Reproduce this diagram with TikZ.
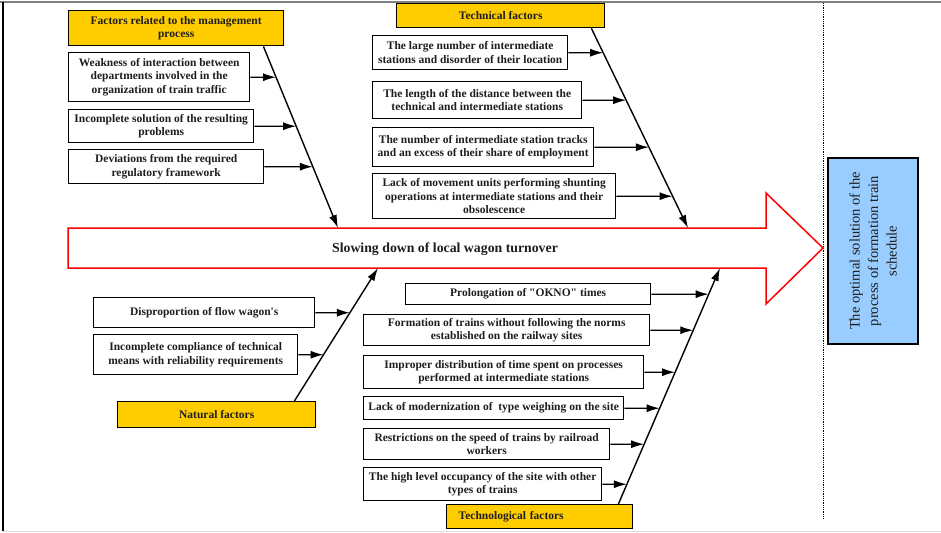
\documentclass[tikz,border=0pt]{standalone}
\usepackage{fontspec}
\setmainfont{Liberation Serif}
\usetikzlibrary{arrows.meta}
\definecolor{headyellow}{RGB}{255,204,0}
\definecolor{goalblue}{RGB}{153,204,255}
\definecolor{inkgray}{RGB}{30,30,30}
\tikzset{
  cause/.style={draw, line width=1.4pt, fill=white, align=center, anchor=north west,
    inner sep=1pt, text=inkgray, font=\bfseries\fontsize{11.5}{13.5}\selectfont},
  group/.style={cause, fill=headyellow},
  bone/.style={line width=1.4pt, -{Latex[length=13pt,width=8pt]}},
  twig/.style={line width=1.4pt, -{Latex[length=13pt,width=8pt]}},
}

\begin{document}
\begin{tikzpicture}[x=1pt,y=-1pt]
\useasboundingbox (0,0) rectangle (941,532);
% frame
\draw[gray, line width=1.5pt] (0,2) -- (941,2);
\draw[line width=1.5pt] (3,2) -- (3,531);
\draw[gray!25, line width=1pt] (3,531) -- (941,531);
\draw[densely dotted, line width=0.8pt] (823,3) -- (823,518);

% main arrow
\draw[red, line width=1.5pt, fill=white] (68,228) -- (766,228) -- (766,193) -- (823,248)
  -- (766,304) -- (766,268) -- (68,268) -- cycle;
\node[text=inkgray, font=\bfseries\fontsize{13.8}{16}\selectfont] (slow) at (445,249)
  {Slowing down of local wagon turnover};

% goal
\node[draw, line width=1.4pt, fill=goalblue, rotate=90, align=center,
  minimum width=186pt, minimum height=90pt, text=inkgray,
  font=\fontsize{14.5}{18.5}\selectfont] (goal) at (873,251)
  {The optimal solution of the\\process of formation train\\schedule};

% management process
\node[group, minimum width=215pt, minimum height=35pt] (mh) at (68,10)
  {Factors related to the management\\process};
\node[cause, minimum width=181pt, minimum height=49pt] (m1) at (68,52)
  {Weakness of interaction between\\departments involved in the\\organization of train traffic};
\node[cause, minimum width=185pt, minimum height=33pt] (m2) at (68,109)
  {Incomplete solution of the resulting\\problems};
\node[cause, minimum width=195pt, minimum height=34pt] (m3) at (68,149)
  {Deviations from the required\\regulatory framework};

% technical
\node[group, minimum width=208pt, minimum height=24pt] (th) at (396,3) {Technical factors};
\node[cause, minimum width=195pt, minimum height=34pt] (t1) at (372,35)
  {The large number of intermediate\\stations and disorder of their location};
\node[cause, minimum width=209pt, minimum height=37pt] (t2) at (372,81)
  {The length of the distance between the\\technical and intermediate stations};
\node[cause, minimum width=221pt, minimum height=39pt] (t3) at (372,127)
  {The number of intermediate station tracks\\and an excess of their share of employment};
\node[cause, minimum width=243pt, minimum height=45pt] (t4) at (372,173)
  {Lack of movement units performing shunting\\operations at intermediate stations and their\\obsolescence};

% natural
\node[cause, minimum width=221pt, minimum height=30pt] (n1) at (93,297)
  {Disproportion of flow wagon\textquotesingle s};
\node[cause, minimum width=204pt, minimum height=40pt] (n2) at (93,334)
  {Incomplete compliance of technical\\means with reliability requirements};
\node[group, minimum width=198pt, minimum height=26pt] (nh) at (117,401) {Natural factors};

% technological
\node[cause, minimum width=245pt, minimum height=21pt] (b1) at (405,283)
  {Prolongation of \textquotedbl OKNO\textquotedbl{} times};
\node[cause, minimum width=286pt, minimum height=31pt] (b2) at (363,314)
  {Formation of trains without following the norms\\established on the railway sites};
\node[cause, minimum width=280pt, minimum height=33pt] (b3) at (363,355)
  {Improper distribution of time spent on processes\\performed at intermediate stations};
\node[cause, minimum width=260pt, minimum height=23pt] (b4) at (363,396)
  {Lack of modernization of\ \ type weighing on the site};
\node[cause, minimum width=246pt, minimum height=31pt] (b5) at (363,428)
  {Restrictions on the speed of trains by railroad\\workers};
\node[cause, minimum width=238pt, minimum height=33pt] (b6) at (363,467)
  {The high level occupancy of the site with other\\types of trains};
\node[group, align=left, text width=162pt, inner xsep=12pt, minimum height=24pt] (bh)
  at (446,504) {Technological factors};

% bones
\coordinate (mroot) at ([xshift=-21pt]mh.south east);
\coordinate (mtip) at (338,228);
\coordinate (troot) at ([xshift=-14pt]th.south east);
\coordinate (ttip) at (688,228);
\coordinate (nroot) at ([xshift=-22pt]nh.north east);
\coordinate (ntip) at (378,268);
\coordinate (broot) at ([xshift=-15pt]bh.north east);
\coordinate (btip) at (720,268);
\draw[bone] (mroot) -- (mtip);
\draw[bone] (troot) -- (ttip);
\draw[bone] (nroot) -- (ntip);
\draw[bone] (broot) -- (btip);

\foreach \b in {m1,m2,m3}
  \draw[twig] (\b) -- (intersection of mroot--mtip and \b.west--\b.east);
\foreach \b in {t1,t2,t3,t4}
  \draw[twig] (\b) -- (intersection of troot--ttip and \b.west--\b.east);
\foreach \b in {n1,n2}
  \draw[twig] (\b) -- (intersection of nroot--ntip and \b.west--\b.east);
\foreach \b in {b1,b2,b3,b4,b5,b6}
  \draw[twig] (\b) -- (intersection of broot--btip and \b.west--\b.east);
\end{tikzpicture}
\end{document}
